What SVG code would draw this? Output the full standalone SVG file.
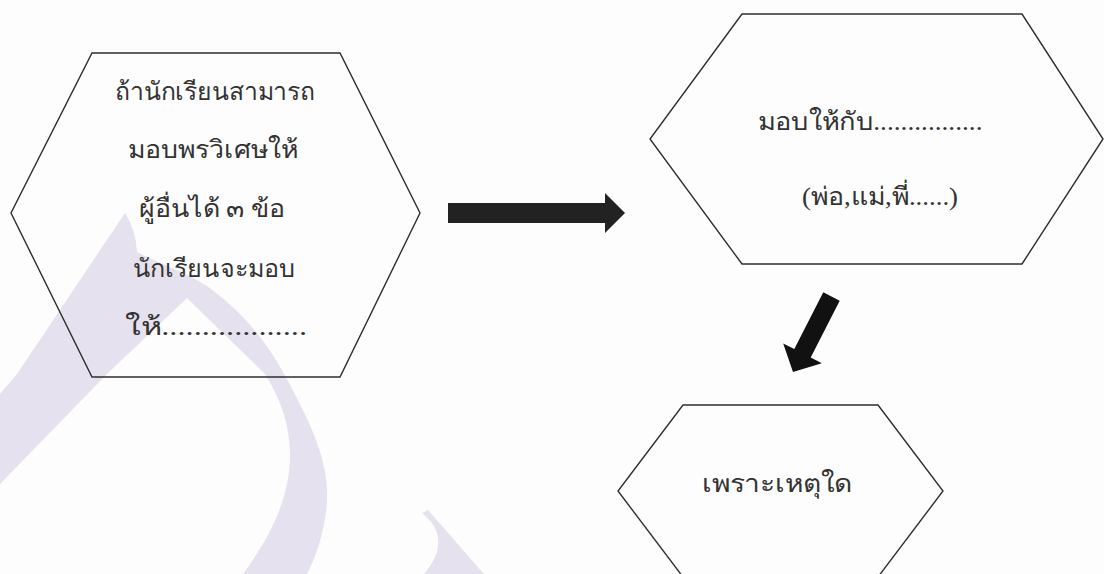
<svg xmlns="http://www.w3.org/2000/svg" width="1104" height="574" viewBox="0 0 1104 574">
  <style>
    .hex { fill: none; stroke: #2e2e2e; stroke-width: 1.4; stroke-linejoin: miter; }
    .t { font-family: "Liberation Serif", "Noto Sans", "DejaVu Sans", serif; font-size: 25px; fill: #333333; }
    .arrow { fill: #222222; }
    .arrow2 { fill: #111111; }
    .wm { fill: #e6e1ee; }
  </style>
  <rect x="0" y="0" width="1104" height="574" fill="#fdfdfd"/>
  <!-- watermark -->
  <path class="wm" d="M0,394 L17,374 L125,213 Q136,230 137,252 C170,268 195,276 215,292 C245,315 270,345 290,385 C315,432 332,470 326,512 C322,540 315,558 307,574 L243,574 C268,540 290,500 290,455 C290,425 280,398 265,374 L187,298 L107,374 L0,484 Z"/>
  <path class="wm" d="M422,513 L428,510 L484,574 L424,574 C436,560 442,545 436,530 C433,523 428,518 422,513 Z"/>

  <g id="connectors">
    <polygon class="arrow" points="448,203 605,203 605,193 625,213 605,233 605,223 448,223"/>
    <polygon class="arrow2" points="823.3,292.3 839.7,300.7 810.7,357.5 821.8,363.2 793,372 783.2,343.4 794.3,349.1"/>
  </g>

  <g id="node-wish">
    <polygon class="hex" points="92,53 340,53 420,213 340,377 92,377 11,213"/>
    <text class="t" x="215" y="100" text-anchor="middle" textLength="200" lengthAdjust="spacingAndGlyphs">ถ้านักเรียนสามารถ</text>
    <text class="t" x="213" y="158" text-anchor="middle" textLength="170" lengthAdjust="spacingAndGlyphs">มอบพรวิเศษให้</text>
    <text class="t" x="212" y="217" text-anchor="middle" textLength="147" lengthAdjust="spacingAndGlyphs">ผู้อื่นได้ ๓ ข้อ</text>
    <text class="t" x="214" y="277" text-anchor="middle" textLength="162" lengthAdjust="spacingAndGlyphs">นักเรียนจะมอบ</text>
    <text class="t" x="216" y="335" text-anchor="middle" textLength="182" lengthAdjust="spacingAndGlyphs">ให้..................</text>
  </g>

  <g id="node-give">
    <polygon class="hex" points="742,14 1022,14 1103,139 1022,264 742,264 650,139"/>
    <text class="t" x="870" y="130" text-anchor="middle" textLength="225" lengthAdjust="spacingAndGlyphs">มอบให้กับ................</text>
    <text class="t" x="880" y="205" text-anchor="middle" textLength="156" lengthAdjust="spacingAndGlyphs">(พ่อ,แม่,พี่......)</text>
  </g>

  <g id="node-why">
    <polygon class="hex" points="683,405 878,405 943,491 878,577 683,577 618,491"/>
    <text class="t" x="777" y="492" text-anchor="middle" textLength="151" lengthAdjust="spacingAndGlyphs">เพราะเหตุใด</text>
  </g>
</svg>
